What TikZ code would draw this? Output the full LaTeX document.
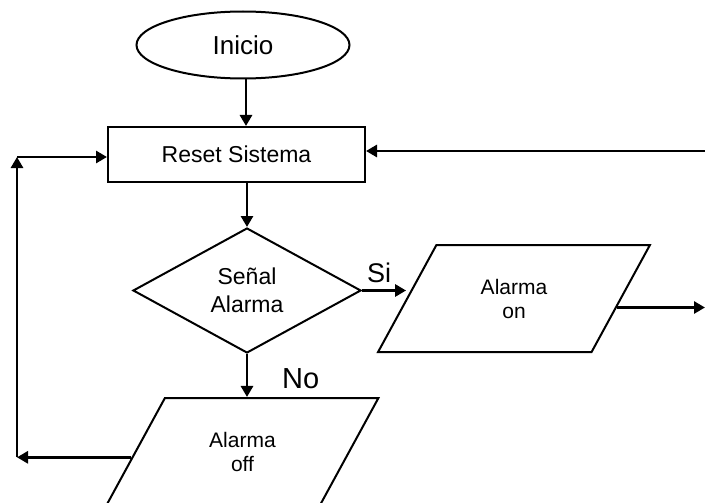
\documentclass[tikz,border=0pt]{standalone}
\usepackage{fontspec}
\setmainfont{Liberation Sans}
\usetikzlibrary{shapes.geometric,arrows.meta}

\tikzset{
  flecha/.style={line width=2.8pt, -{Triangle[length=11pt,width=12pt]}},
  bloque/.style={draw, line width=2pt, inner sep=0pt, align=center},
  datos/.style={bloque, trapezium, trapezium left angle=57.6, trapezium right angle=122.4,
    trapezium stretches=true, minimum width=272pt, minimum height=107pt,
    font=\fontsize{21}{24}\selectfont},
}

\begin{document}
\begin{tikzpicture}[x=1pt,y=-1pt]
    \clip (0,0) rectangle (705,503);
    % Bloques
    \node[bloque, ellipse, minimum width=213pt, minimum height=67pt,
      font=\fontsize{26}{31}\selectfont] (inicio) at (243,45) {Inicio};
    \node[bloque, rectangle, minimum width=257pt, minimum height=55pt,
      font=\fontsize{23}{28}\selectfont] (reset) at (236.5,154.5) {Reset Sistema};
    \node[bloque, diamond, aspect=1.82, minimum width=228pt, minimum height=125pt,
      font=\fontsize{23}{28}\selectfont] (senal) at (247,290.5) {Señal\\Alarma};
    \node[datos] (on) at (514,298.5) {Alarma\\on};
    \node[datos] (off) at (242.5,451.5) {Alarma\\off};
    % Puntos de retorno
    \coordinate (izq) at (17,157);
    \coordinate (der) at (705,151);
    \coordinate (sal) at (705,308);
    % Flechas
    \draw[flecha] (inicio.south -| 246,0) -- (reset.north -| 246,0);
    \draw[flecha] (senal.north |- reset.south) -- (senal.north);
    \draw[flecha] (senal.east) -- (on.west |- senal.east);
    \draw[flecha] (senal.south) -- (senal.south |- off.north);
    \draw[flecha] (on.-5.6) -- (on.-5.6 -| sal);
    \draw[flecha] (der) -- (der -| reset.east);
    \draw[flecha] (off.183) -- (off.183 -| izq);
    \draw[flecha] (off.183 -| izq) -- (izq);
    \draw[flecha] (izq) -- (izq -| reset.west);
    % Etiquetas
    \node[anchor=base west, inner sep=0pt, font=\fontsize{27}{32}\selectfont] (si) at (367,282) {Si};
    \node[anchor=base west, inner sep=0pt, font=\fontsize{29}{34}\selectfont] (no) at (282,388) {No};
\end{tikzpicture}
\end{document}
